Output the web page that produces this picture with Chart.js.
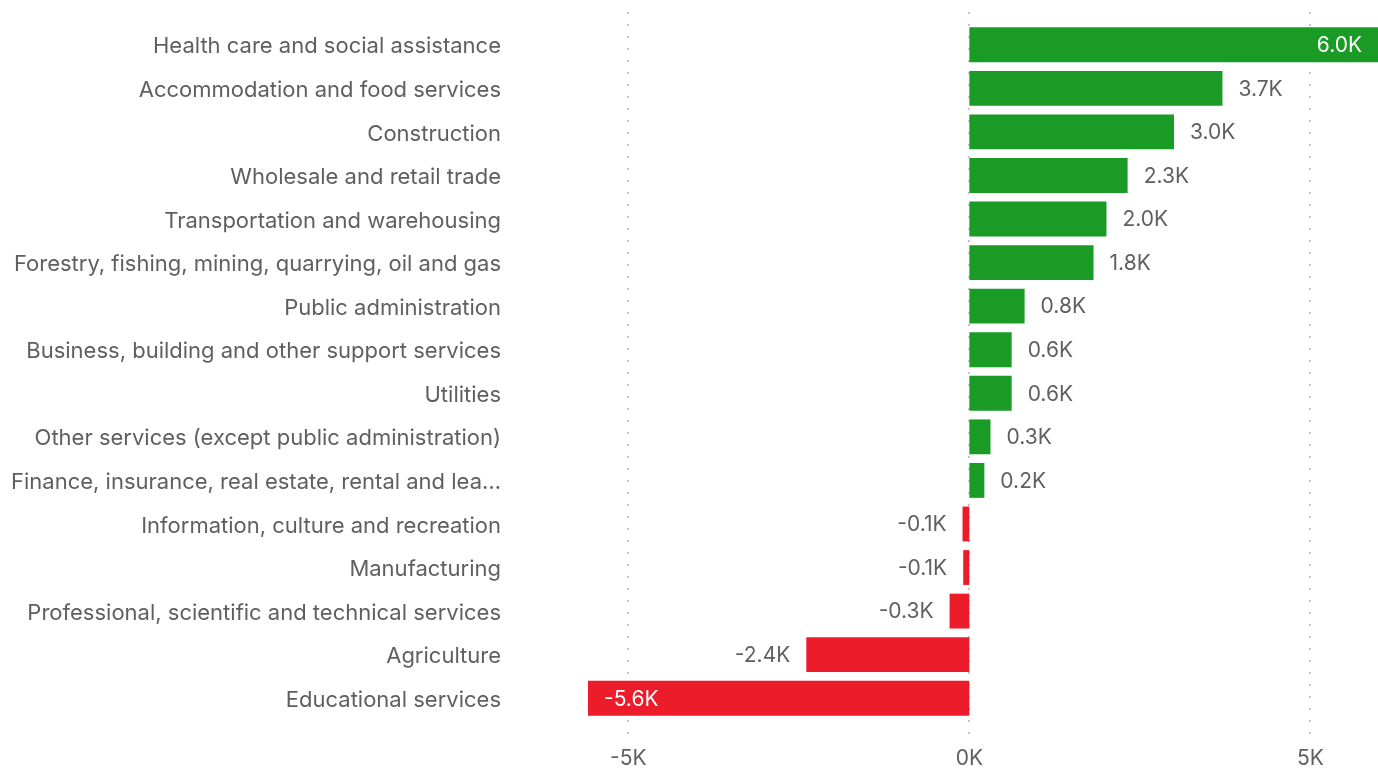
<!DOCTYPE html>
<html>
<head>
<meta charset="utf-8">
<script src="https://cdn.jsdelivr.net/npm/chart.js@4"></script>
<style>
  html, body { margin: 0; padding: 0; background: #fff; }
  #wrap { width: 1378px; height: 768px; position: relative; }
</style>
</head>
<body>
<div id="wrap"><canvas id="barChart"></canvas></div>
<script>
// categories, top to bottom
const categories = [
  "Health care and social assistance",
  "Accommodation and food services",
  "Construction",
  "Wholesale and retail trade",
  "Transportation and warehousing",
  "Forestry, fishing, mining, quarrying, oil and gas",
  "Public administration",
  "Business, building and other support services",
  "Utilities",
  "Other services (except public administration)",
  "Finance, insurance, real estate, rental and lea\u2026",
  "Information, culture and recreation",
  "Manufacturing",
  "Professional, scientific and technical services",
  "Agriculture",
  "Educational services"
];
// change in employment
const changes = [5990, 3710, 3000, 2320, 2010, 1820, 810, 620, 620, 310, 220, -100, -90, -290, -2390, -5590];
const tickValues = [-5000, 0, 5000];
const tickLabels = ["-5K", "0K", "5K"];

const green = "#1a9b25";
const red = "#ec1c2a";
const textGrey = "#5f5f5f";
const gridGrey = "#c6c6c6";
const labelFont = "Inter, Roboto, sans-serif";

function fmtK(v) {
  return (v / 1000).toFixed(1) + "K";
}

// dotted vertical lines at the x ticks, running a bit past the bars
const dottedGrid = {
  id: "dottedGrid",
  beforeDatasetsDraw(chart) {
    const ctx = chart.ctx;
    const area = chart.chartArea;
    const xScale = chart.scales.x;
    ctx.save();
    ctx.strokeStyle = gridGrey;
    ctx.lineWidth = 2;
    ctx.setLineDash([2, 10]);
    tickValues.forEach(function (v) {
      const x = Math.round(xScale.getPixelForValue(v));
      ctx.beginPath();
      ctx.moveTo(x, area.top - 11);
      ctx.lineTo(x, area.bottom + 16);
      ctx.stroke();
    });
    ctx.restore();
  }
};

// value labels, outside the bar unless there is no room
const valueLabels = {
  id: "valueLabels",
  afterDatasetsDraw(chart) {
    const ctx = chart.ctx;
    const area = chart.chartArea;
    const meta = chart.getDatasetMeta(0);
    ctx.save();
    ctx.font = "21px " + labelFont;
    ctx.textBaseline = "middle";
    meta.data.forEach(function (bar, i) {
      const v = changes[i];
      const txt = fmtK(v);
      const w = ctx.measureText(txt).width;
      const gap = 16;
      if (v >= 0) {
        if (bar.x + gap + w <= area.right) {
          ctx.fillStyle = textGrey;
          ctx.textAlign = "left";
          ctx.fillText(txt, bar.x + gap, bar.y + 1);
        } else {
          ctx.fillStyle = "#fff";
          ctx.textAlign = "right";
          ctx.fillText(txt, bar.x - gap, bar.y + 1);
        }
      } else {
        if (bar.x - gap - w >= area.left) {
          ctx.fillStyle = textGrey;
          ctx.textAlign = "right";
          ctx.fillText(txt, bar.x - gap, bar.y + 1);
        } else {
          ctx.fillStyle = "#fff";
          ctx.textAlign = "left";
          ctx.fillText(txt, bar.x + gap, bar.y + 1);
        }
      }
    });
    ctx.restore();
  }
};

new Chart(document.getElementById("barChart"), {
  type: "bar",
  data: {
    labels: categories,
    datasets: [{
      data: changes,
      backgroundColor: changes.map(v => v >= 0 ? green : red),
      barPercentage: 0.8,
      categoryPercentage: 1.0,
      borderWidth: 0
    }]
  },
  options: {
    indexAxis: "y",
    responsive: true,
    maintainAspectRatio: false,
    animation: false,
    layout: { padding: { top: 23, right: 0, left: 0, bottom: 0 } },
    plugins: {
      legend: { display: false },
      tooltip: { enabled: false }
    },
    scales: {
      x: {
        min: Math.min(...changes),
        max: Math.max(...changes),
        afterBuildTicks: function (scale) {
          scale.ticks = tickValues.map(v => ({ value: v }));
        },
        afterFit: function (scale) {
          scale.height = 48;
          scale.paddingLeft = 0;
          scale.paddingRight = 0;
        },
        ticks: {
          color: textGrey,
          font: { family: labelFont, size: 21 },
          padding: 26,
          maxRotation: 0,
          callback: function (value) {
            return tickLabels[tickValues.indexOf(value)];
          }
        },
        grid: { display: false, drawTicks: false },
        border: { display: false }
      },
      y: {
        afterFit: function (scale) {
          scale.width = 588;
          scale.paddingTop = 0;
          scale.paddingBottom = 0;
        },
        ticks: {
          color: textGrey,
          font: { family: labelFont, size: 22 },
          padding: 87,
          labelOffset: 2,
          autoSkip: false
        },
        grid: { display: false, drawTicks: false },
        border: { display: false }
      }
    }
  },
  plugins: [dottedGrid, valueLabels]
});
</script>
</body>
</html>
